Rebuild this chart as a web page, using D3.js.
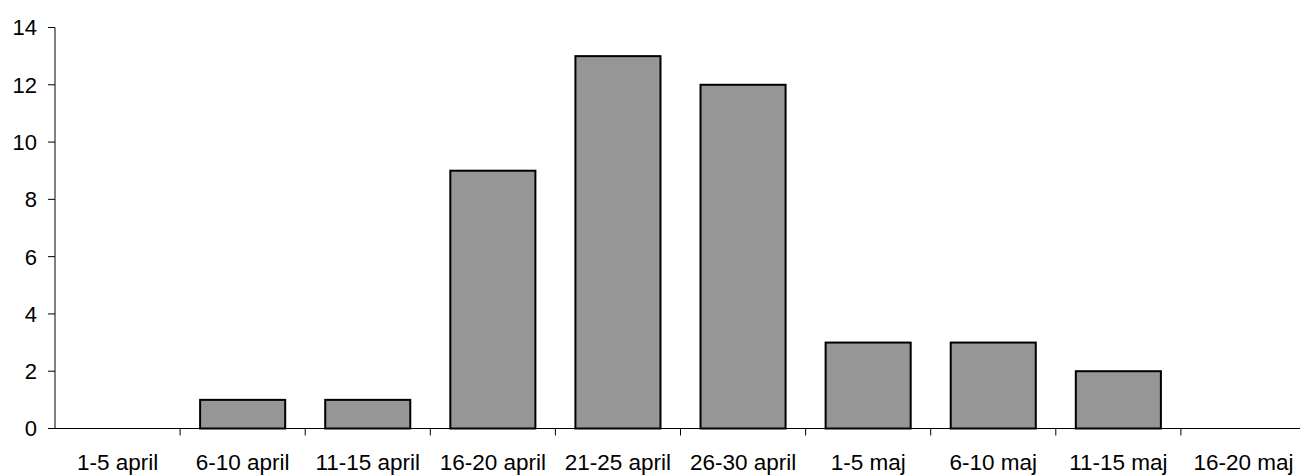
<!DOCTYPE html>
<html><head><meta charset="utf-8">
<script src="https://cdn.jsdelivr.net/npm/d3@7/dist/d3.min.js"></script>
<style>body{margin:0;background:#fff;} svg{display:block;font-family:Arial,"Liberation Sans",sans-serif;}</style>
</head><body>
<script>
const categories = ["1-5 april","6-10 april","11-15 april","16-20 april","21-25 april","26-30 april","1-5 maj","6-10 maj","11-15 maj","16-20 maj"];
const values = [0,1,1,9,13,12,3,3,2,0];
const yTicks = [0,2,4,6,8,10,12,14];

const W = 1300, H = 476;
const plotLeft = 55, bandW = 125.1, plotTop = 27.5, plotBottom = 428.5;
const svg = d3.select("body").append("svg").attr("width", W).attr("height", H);

const x = d3.scaleBand().domain(categories).range([plotLeft, plotLeft + bandW*categories.length]).padding(0);
const y = d3.scaleLinear().domain([0,14]).range([plotBottom, plotTop]);

// bars
svg.append("g").selectAll("rect").data(categories.map((c,i)=>({c, v: values[i]})).filter(d=>d.v>0))
  .join("rect")
  .attr("x", d => x(d.c) + x.bandwidth()*0.16)
  .attr("width", x.bandwidth()*0.68)
  .attr("y", d => y(d.v))
  .attr("height", d => y(0) - y(d.v))
  .attr("fill", "#969696")
  .attr("stroke", "#000")
  .attr("stroke-width", 2);

// y axis
const ya = svg.append("g");
ya.append("line").attr("x1", plotLeft).attr("x2", plotLeft).attr("y1", y(14)).attr("y2", y(0)).attr("stroke","#000").attr("stroke-width",1);
ya.selectAll("line.t").data(yTicks).join("line").attr("class","t")
  .attr("x1", plotLeft-7).attr("x2", plotLeft).attr("y1", d=>y(d)).attr("y2", d=>y(d)).attr("stroke","#000");
ya.selectAll("text").data(yTicks).join("text")
  .attr("x", 37).attr("y", d=>y(d)).attr("dy","0.36em").attr("text-anchor","end")
  .attr("font-size", 22).text(d=>d);

// x axis
const xa = svg.append("g");
xa.append("line").attr("x1", plotLeft).attr("x2", W).attr("y1", y(0)).attr("y2", y(0)).attr("stroke","#000");
xa.selectAll("line.t").data(categories).join("line").attr("class","t")
  .attr("x1", d => x(d) + x.step()).attr("x2", d => x(d) + x.step())
  .attr("y1", y(0)).attr("y2", y(0)+7).attr("stroke","#000");
xa.selectAll("text").data(categories).join("text")
  .attr("x", d => x(d) + x.bandwidth()/2).attr("y", 470).attr("text-anchor","middle")
  .attr("font-size", 22.5).text(d=>d);
</script>
</body></html>
